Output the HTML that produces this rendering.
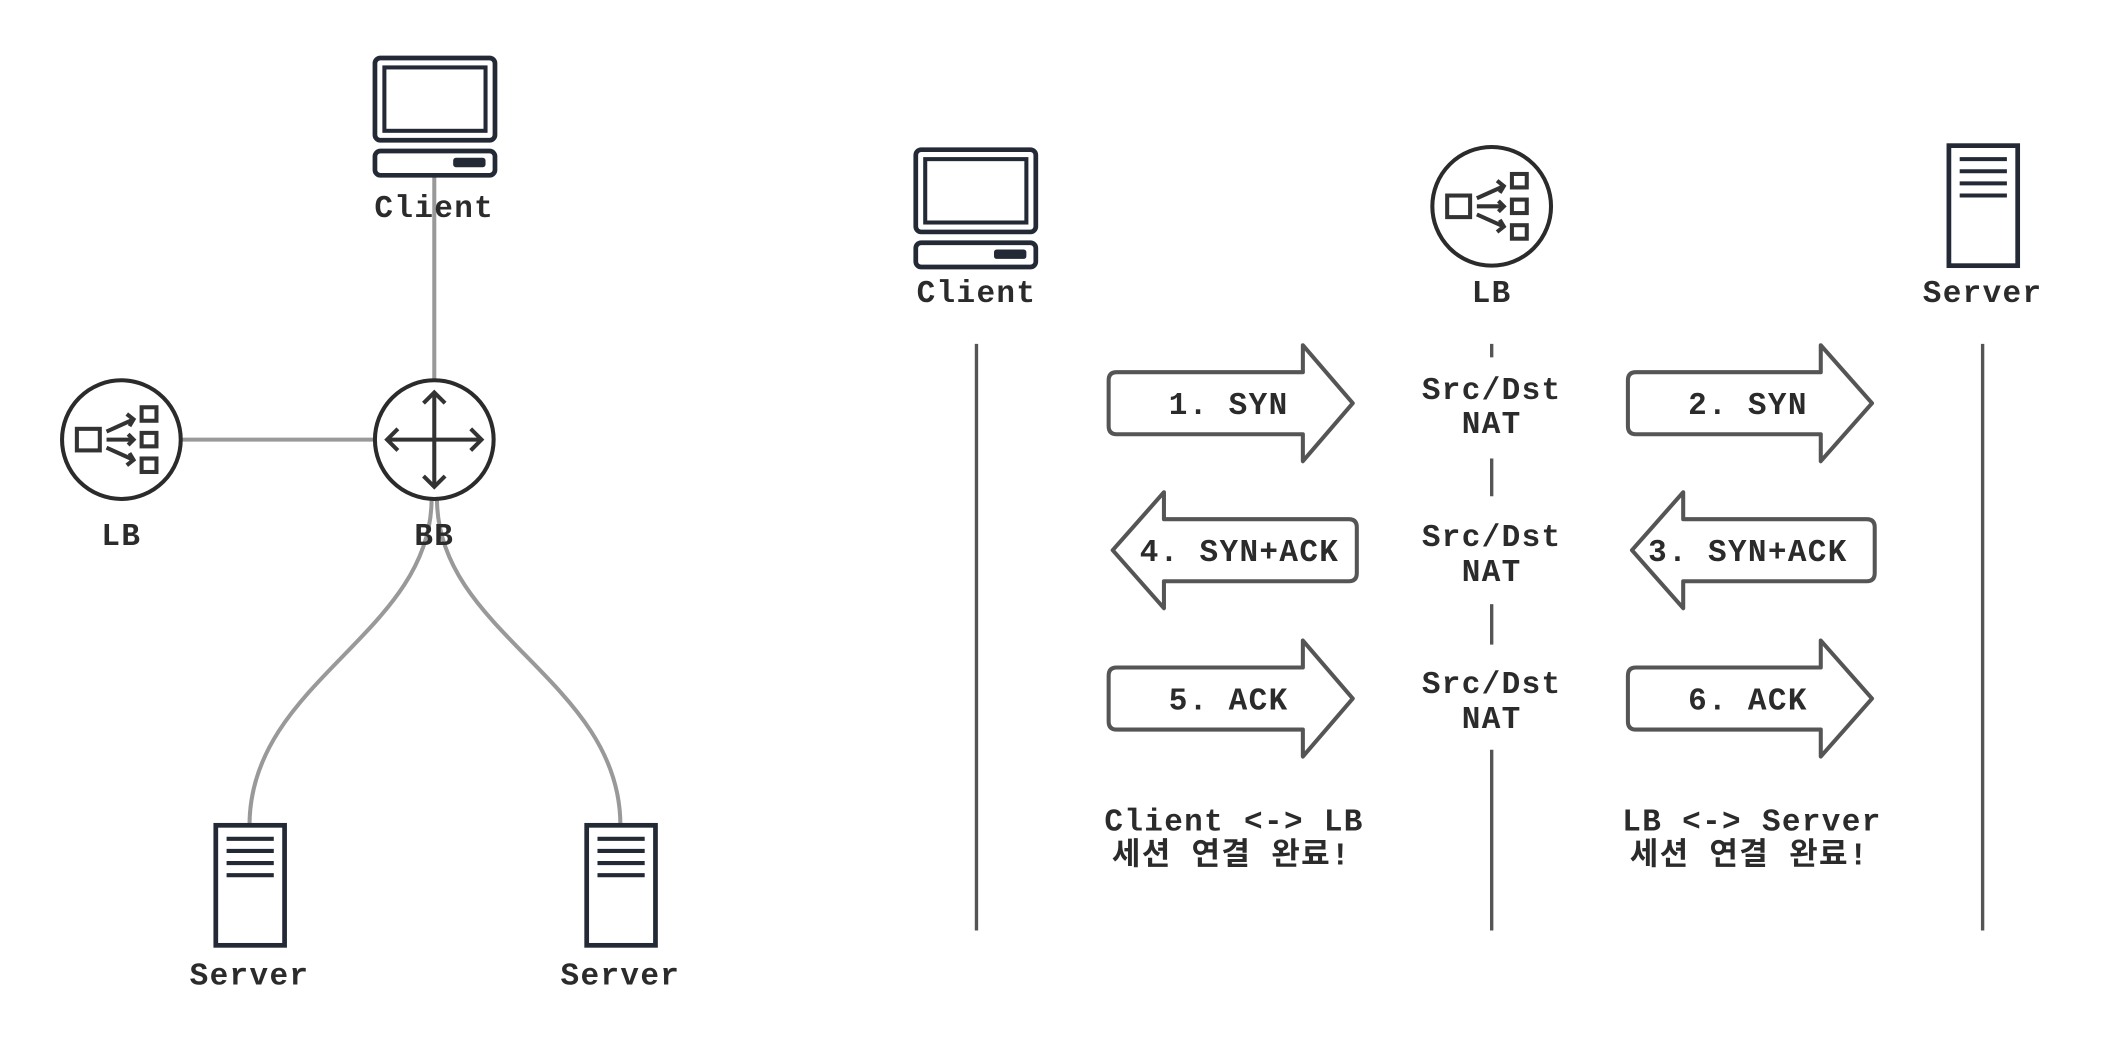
<!DOCTYPE html>
<html><head><meta charset="utf-8"><style>
html,body{margin:0;padding:0;background:#fff;}
svg{display:block;}
text{font-family:"Liberation Mono","Noto Sans CJK KR",monospace;font-weight:bold;font-size:23px;letter-spacing:1px;fill:#2b2b2b;text-anchor:middle;}
</style></head><body>
<svg width="2104" height="1064" viewBox="0 0 1560 789" preserveAspectRatio="none" xmlns="http://www.w3.org/2000/svg">
<defs>
<g id="pc">
  <rect x="0" y="0" width="89" height="61" rx="4" fill="#fff" stroke="#232a36" stroke-width="3.5"/>
  <rect x="7" y="7" width="75" height="47" fill="none" stroke="#232a36" stroke-width="3"/>
  <rect x="0" y="69" width="89" height="18" rx="4" fill="#fff" stroke="#232a36" stroke-width="3.5"/>
  <rect x="58" y="74" width="24" height="7" rx="2" fill="#232a36"/>
</g>
<g id="srv">
  <rect x="0" y="0" width="51" height="89" fill="#fff" stroke="#232a36" stroke-width="3.5"/>
  <g stroke="#232a36" stroke-width="3"><line x1="8" y1="10" x2="43" y2="10"/><line x1="8" y1="19" x2="43" y2="19"/><line x1="8" y1="28" x2="43" y2="28"/><line x1="8" y1="37" x2="43" y2="37"/></g>
</g>
<g id="lbi">
  <circle cx="0" cy="0" r="44" fill="#fff" stroke="#2b2b2b" stroke-width="3"/>
  <g fill="none" stroke="#333" stroke-width="3">
    <rect x="-33" y="-8" width="17" height="16"/>
    <rect x="15" y="-24" width="11" height="10"/><rect x="15" y="-5" width="11" height="10"/><rect x="15" y="14" width="11" height="10"/>
    <path d="M-11,-6 L9,-15 M4,-19 L9,-15 L6,-10"/>
    <path d="M-11,0 L9,0 M5,-4 L9,0 L5,4"/>
    <path d="M-11,6 L9,15 M4,19 L9,15 L6,10"/>
  </g>
</g>
</defs>

<!-- LEFT -->
<g stroke="#999" stroke-width="3" fill="none">
  <line x1="322" y1="130" x2="322" y2="283"/>
  <line x1="135" y1="326" x2="278" y2="326"/>
  <path d="M320,370 C320,470 185,505 185,612"/>
  <path d="M324,370 C324,470 460,505 460,612"/>
</g>
<use href="#pc" x="278" y="43"/>
<text x="322" y="161">Client</text>
<use href="#lbi" x="90" y="326"/>
<text x="90" y="404">LB</text>
<circle cx="322" cy="326" r="44" fill="#fff" stroke="#2b2b2b" stroke-width="3"/>
<g fill="none" stroke="#333" stroke-width="3">
  <line x1="322" y1="291" x2="322" y2="361"/><line x1="287" y1="326" x2="357" y2="326"/>
  <path d="M314,299 L322,291 L330,299 M314,353 L322,361 L330,353 M295,318 L287,326 L295,334 M349,318 L357,326 L349,334"/>
</g>
<text x="322" y="404">BB</text>
<use href="#srv" x="160" y="612"/>
<use href="#srv" x="435" y="612"/>
<text x="185" y="730">Server</text>
<text x="460" y="730">Server</text>

<!-- RIGHT -->
<g stroke="#555" stroke-width="2.5">
  <line x1="724" y1="255" x2="724" y2="690"/>
  <line x1="1470" y1="255" x2="1470" y2="690"/>
  <line x1="1106" y1="255" x2="1106" y2="265"/>
  <line x1="1106" y1="340" x2="1106" y2="368"/>
  <line x1="1106" y1="448" x2="1106" y2="478"/>
  <line x1="1106" y1="556" x2="1106" y2="690"/>
</g>
<use href="#pc" x="679" y="111"/>
<text x="724" y="224">Client</text>
<use href="#lbi" x="1106" y="153"/>
<text x="1106" y="224">LB</text>
<use href="#srv" x="1445" y="108"/>
<text x="1470" y="224">Server</text>

<g fill="#fff" stroke="#555" stroke-width="3" stroke-linejoin="round">
  <path d="M828,276 H966 V256 L1003,299 L966,342 V322 H828 Q822,322 822,316 V282 Q822,276 828,276 Z"/>
  <path d="M1213,276 H1350 V256 L1388,299 L1350,342 V322 H1213 Q1207,322 1207,316 V282 Q1207,276 1213,276 Z"/>
  <path d="M1000,385 H863 V365 L825,408 L863,451 V431 H1000 Q1006,431 1006,425 V391 Q1006,385 1000,385 Z"/>
  <path d="M1384,385 H1248 V365 L1210,408 L1248,451 V431 H1384 Q1390,431 1390,425 V391 Q1390,385 1384,385 Z"/>
  <path d="M828,495 H966 V475 L1003,518 L966,561 V541 H828 Q822,541 822,535 V501 Q822,495 828,495 Z"/>
  <path d="M1213,495 H1350 V475 L1388,518 L1350,561 V541 H1213 Q1207,541 1207,535 V501 Q1207,495 1213,495 Z"/>
</g>
<text x="911" y="307">1. SYN</text>
<text x="1296" y="307">2. SYN</text>
<text x="919" y="416">4. SYN+ACK</text>
<text x="1296" y="416">3. SYN+ACK</text>
<text x="911" y="526">5. ACK</text>
<text x="1296" y="526">6. ACK</text>

<text x="1106" y="296">Src/Dst</text><text x="1106" y="321">NAT</text>
<text x="1106" y="405">Src/Dst</text><text x="1106" y="431">NAT</text>
<text x="1106" y="514">Src/Dst</text><text x="1106" y="540">NAT</text>

<text x="915" y="616">Client &lt;-&gt; LB</text>
<text x="913" y="641">세션 연결 완료!</text>
<text x="1299" y="616">LB &lt;-&gt; Server</text>
<text x="1297" y="641">세션 연결 완료!</text>
</svg>
</body></html>
